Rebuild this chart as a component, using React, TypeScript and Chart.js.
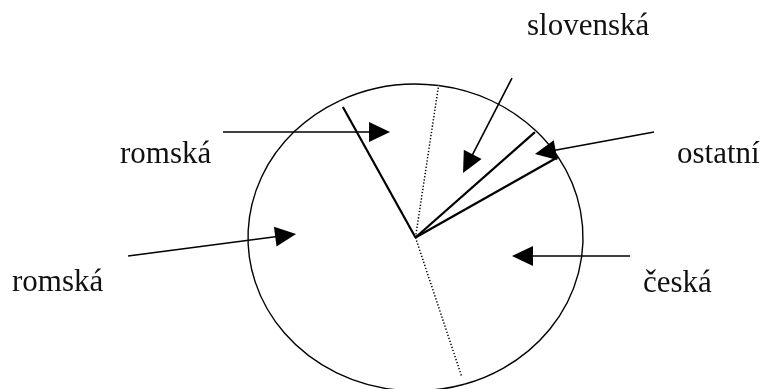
import React, { useEffect, useRef } from "react";
import { Chart, registerables } from "chart.js";

Chart.register(...registerables);

// ---- data ----
const categories: string[] = ["romská", "slovenská", "ostatní", "česká", "romská"];
const shares: number[] = [9.7, 10.6, 3.4, 29.1, 47.2];
const startAngleDeg = -27;

// ---- styles (not data) ----
const edgeStyles: string[] = ["solid", "dotted", "solid", "solid", "dotted"]; // leading edge of each slice
const edgeReach: number[] = [0.955, 1, 0.99, 1, 0.94];
const ellipseRatio = 0.916;
const FONT = '31px "Liberation Serif", "Times New Roman", serif';

// annotation layout, in units of the pie radius relative to its centre
const labelAnchors: number[][] = [[-1.764, -0.445], [0.666, -1.209], [1.561, -0.445], [1.358, 0.325], [-2.409, 0.319]];
const arrowTails: number[][] = [[-1.149, -0.63], [0.576, -0.952], [1.424, -0.63], [1.281, 0.11], [-1.716, 0.11]];
const arrowTips: number[][] = [[-0.152, -0.63], [0.284, -0.385], [0.713, -0.499], [0.576, 0.11], [-0.713, -0.021]];

function drawArrow(ctx: CanvasRenderingContext2D, x0: number, y0: number, x1: number, y1: number) {
  const ang = Math.atan2(y1 - y0, x1 - x0);
  const L = 21, W = 10;
  const bx = x1 - L * Math.cos(ang), by = y1 - L * Math.sin(ang);
  ctx.setLineDash([]);
  ctx.lineWidth = 1.6;
  ctx.beginPath();
  ctx.moveTo(x0, y0);
  ctx.lineTo(bx + 2 * Math.cos(ang), by + 2 * Math.sin(ang));
  ctx.stroke();
  ctx.beginPath();
  ctx.moveTo(x1, y1);
  ctx.lineTo(bx - W * Math.sin(ang), by + W * Math.cos(ang));
  ctx.lineTo(bx + W * Math.sin(ang), by - W * Math.cos(ang));
  ctx.closePath();
  ctx.fill();
}

const sketchPlugin = {
  id: "sketch",
  afterDatasetsDraw(chart: any) {
    const ctx: CanvasRenderingContext2D = chart.ctx;
    const arcs = chart.getDatasetMeta(0).data as any[];
    if (!arcs.length) return;
    const cx = arcs[0].x, cy = arcs[0].y, R = arcs[0].outerRadius;
    const k = ellipseRatio;
    ctx.save();
    ctx.strokeStyle = "#000";
    ctx.fillStyle = "#000";
    // outline of every slice
    ctx.lineWidth = 1.4;
    ctx.setLineDash([]);
    arcs.forEach((a) => {
      ctx.beginPath();
      ctx.ellipse(cx, cy, R, R * k, 0, a.startAngle, a.endAngle);
      ctx.stroke();
    });
    // slice edges: dotted first, then solid
    ["dotted", "solid"].forEach((pass) => {
      arcs.forEach((a, i) => {
        if (edgeStyles[i] !== pass) return;
        const r = R * edgeReach[i];
        const ex = cx + r * Math.cos(a.startAngle);
        const ey = cy + r * k * Math.sin(a.startAngle);
        if (pass === "dotted") {
          ctx.lineWidth = 1.5;
          ctx.setLineDash([1.3, 1.9]);
        } else {
          ctx.lineWidth = 2.2;
          ctx.setLineDash([]);
        }
        ctx.beginPath();
        ctx.moveTo(cx, cy);
        ctx.lineTo(ex, ey);
        ctx.stroke();
      });
    });
    // arrows
    categories.forEach((_, i) => {
      const t = arrowTails[i], h = arrowTips[i];
      drawArrow(ctx, cx + t[0] * R, cy + t[1] * R, cx + h[0] * R, cy + h[1] * R);
    });
    // labels
    ctx.font = FONT;
    ctx.fillStyle = "#111";
    ctx.textAlign = "left";
    ctx.textBaseline = "alphabetic";
    categories.forEach((c, i) => {
      const p = labelAnchors[i];
      ctx.fillText(c, cx + p[0] * R, cy + p[1] * R);
    });
    ctx.restore();
  },
};

export default function App() {
  const ref = useRef<HTMLCanvasElement>(null);
  useEffect(() => {
    if (!ref.current) return;
    const chart = new Chart(ref.current, {
      type: "pie",
      data: {
        labels: categories,
        datasets: [
          {
            data: shares,
            backgroundColor: "#ffffff",
            borderWidth: 0,
            hoverOffset: 0,
          },
        ],
      },
      options: {
        responsive: false,
        animation: false,
        rotation: startAngleDeg,
        events: [],
        layout: { padding: { left: 248, right: 178, top: 70, bottom: 75 } },
        plugins: { legend: { display: false }, tooltip: { enabled: false } },
      },
      plugins: [sketchPlugin],
    } as any);
    return () => chart.destroy();
  }, []);
  return (
    <div
      style={{
        position: "absolute",
        left: 0,
        top: 0,
        width: 761,
        height: 389,
        overflow: "hidden",
        background: "#ffffff",
      }}
    >
      <canvas ref={ref} width={761} height={480} style={{ display: "block" }} />
    </div>
  );
}
